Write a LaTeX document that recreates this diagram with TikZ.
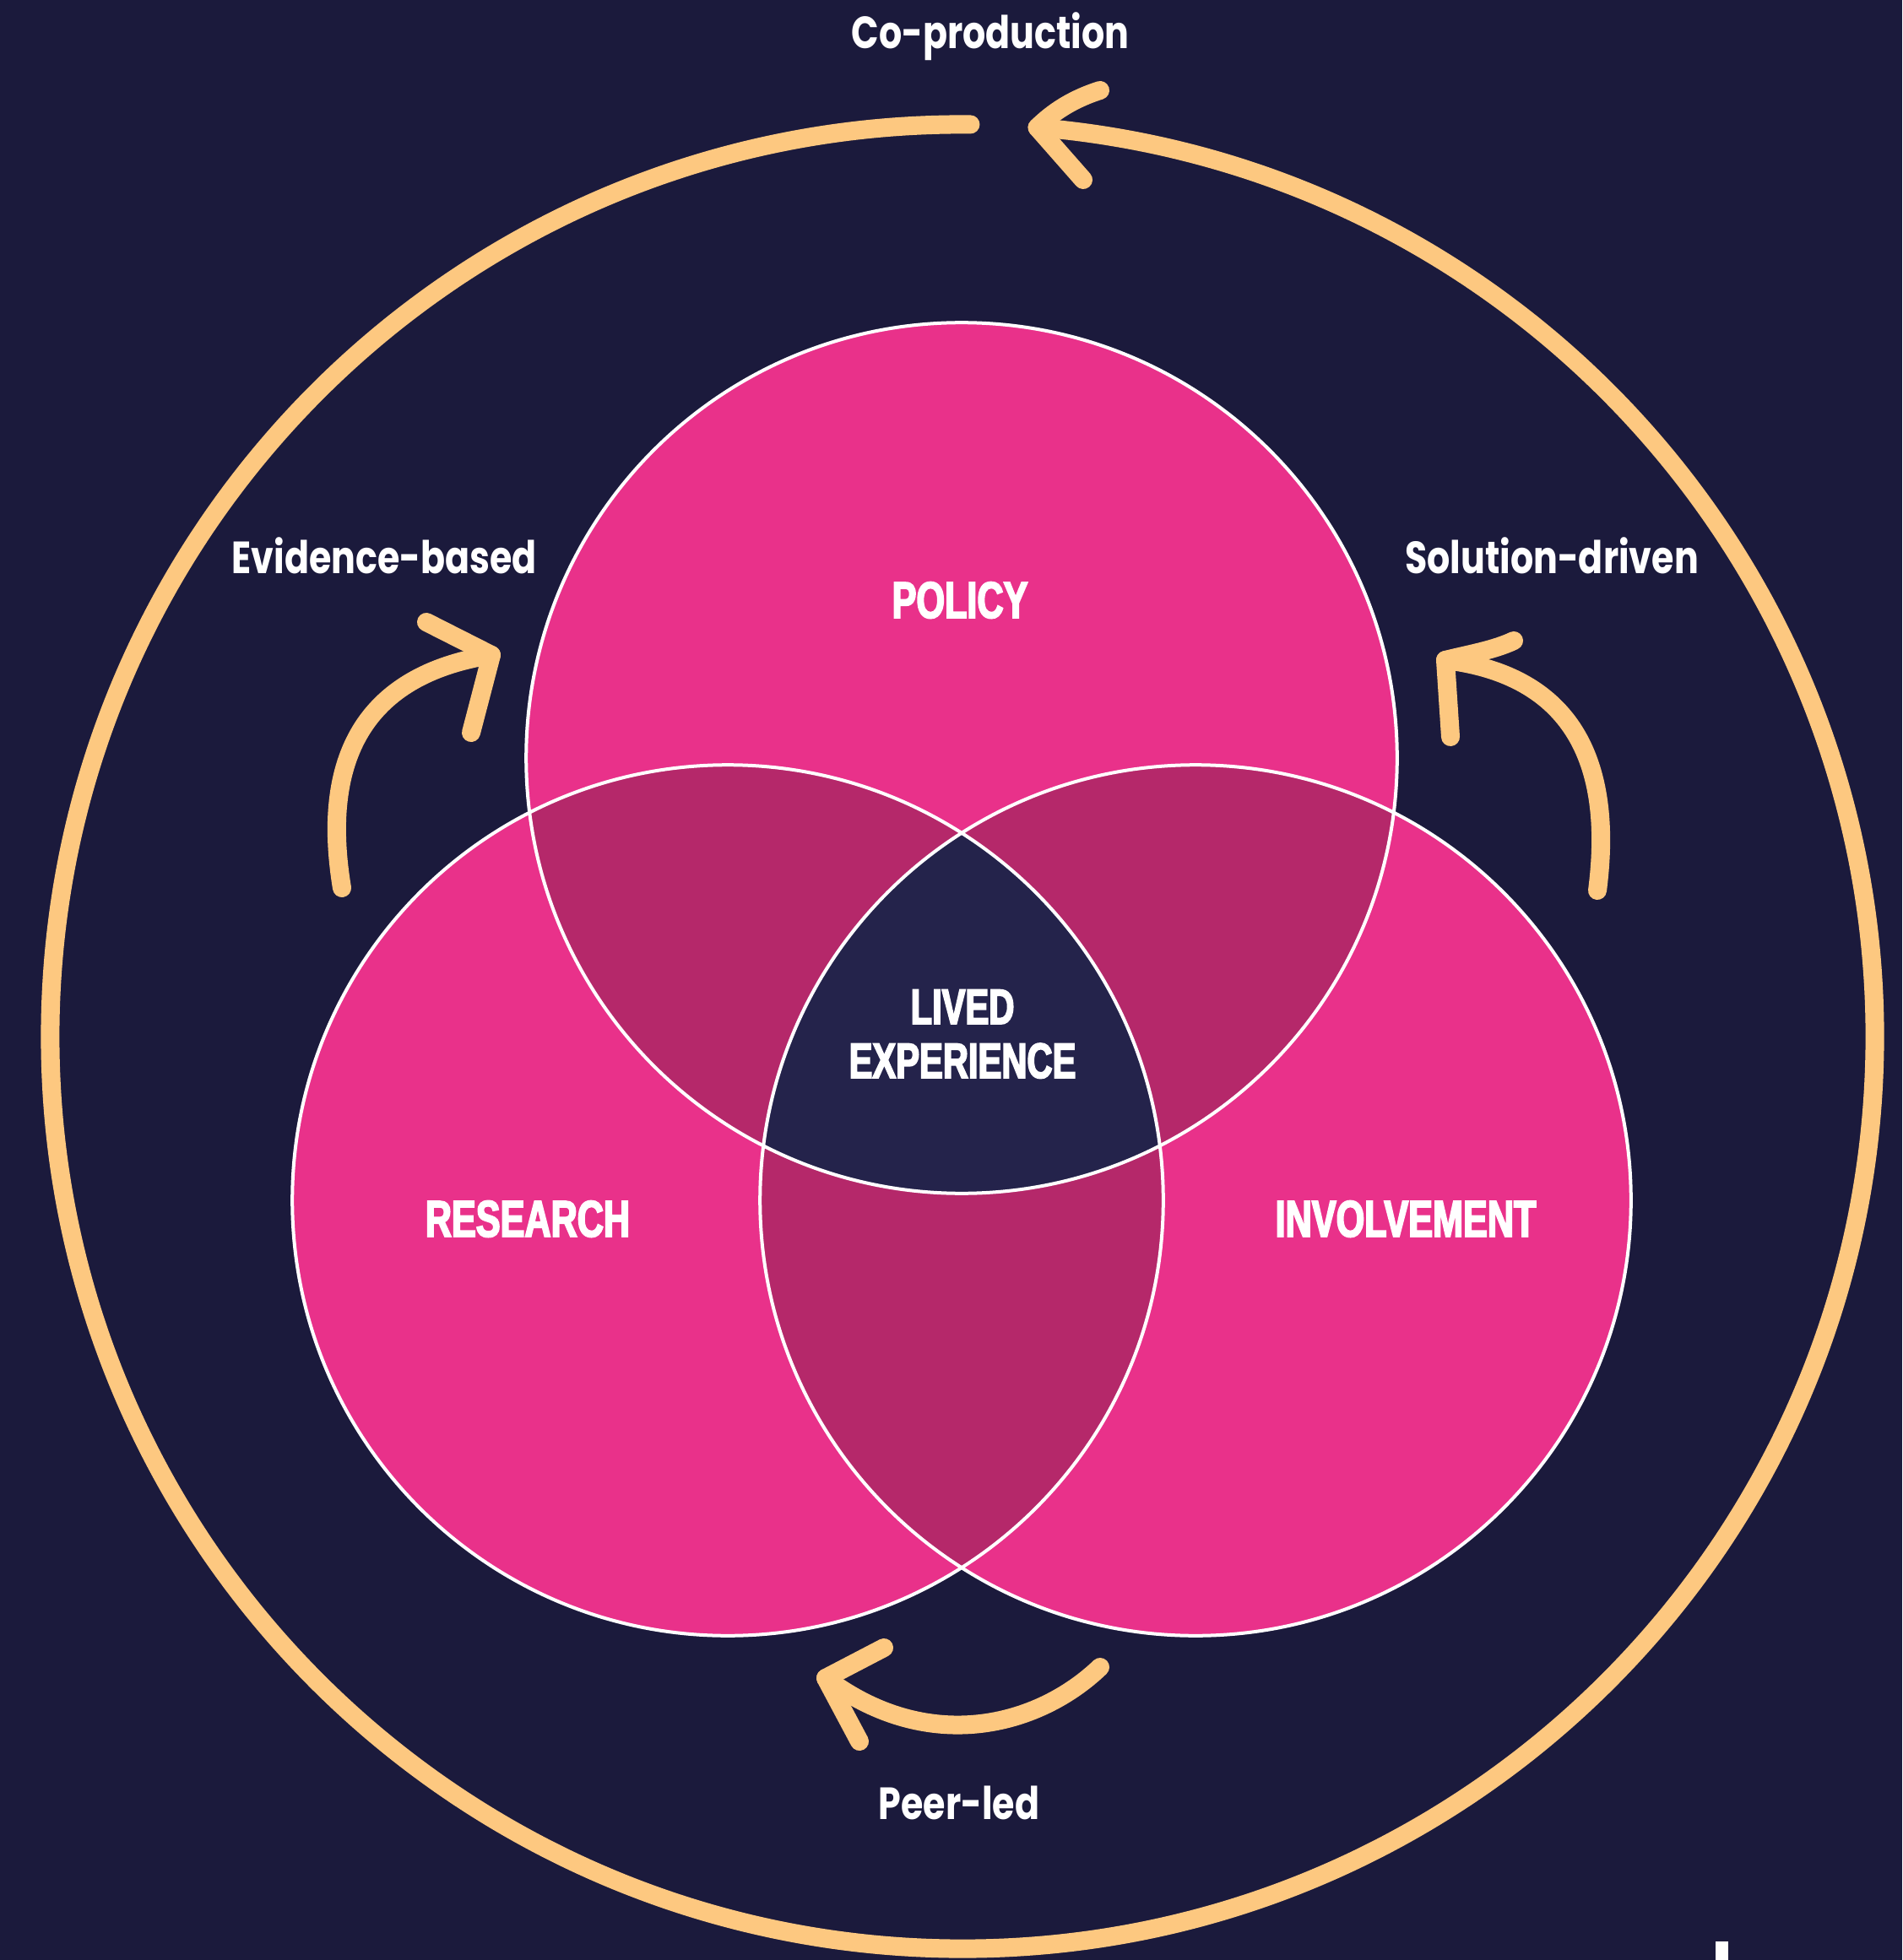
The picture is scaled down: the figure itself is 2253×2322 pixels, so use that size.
\documentclass[tikz,border=0pt]{standalone}
\usepackage{fontspec}
\newfontfamily\capsfont[UprightFont={* Bold},FakeStretch=0.71,FakeBold=3]{Liberation Sans}
\newfontfamily\labelfont[UprightFont={* Bold},FakeStretch=0.8]{Poppins}
\definecolor{bg}{HTML}{1B1A3C}
\definecolor{pinkc}{HTML}{E9318A}
\definecolor{overlapc}{HTML}{B5286A}
\definecolor{corec}{HTML}{24234B}
\definecolor{ringc}{HTML}{FDC880}
\tikzset{
  orangeline/.style={draw=ringc, line width=0.22cm, line cap=round, line join=round},
  capslabel/.style={text=white, inner sep=0pt, anchor=base, font=\capsfont\fontsize{17.3pt}{18pt}\selectfont},
  corelabel/.style={text=white, inner sep=0pt, anchor=base, font=\capsfont\fontsize{16.7pt}{18pt}\selectfont},
  smalllabel/.style={text=white, inner sep=0pt, anchor=base, font=\labelfont\fontsize{15.2pt}{17pt}\selectfont},
  outline/.style={draw=white, line width=0.04cm}
}
\begin{document}
\begin{tikzpicture}[x=0.01cm,y=-0.01cm]
\fill[bg] (0,0) rectangle (2253,2322);
\useasboundingbox (0,0) rectangle (2253,2322);

% circle centres
\coordinate (cP) at (1139,898);
\coordinate (cR) at (862,1422);
\coordinate (cI) at (1416,1422);
\coordinate (cO) at (1140,1228);

% base fills
\fill[pinkc] (cP) circle[radius=5.155cm];
\fill[pinkc] (cR) circle[radius=5.155cm];
\fill[pinkc] (cI) circle[radius=5.155cm];
% pairwise overlaps
\begin{scope}
  \clip (cP) circle[radius=5.155cm];
  \fill[overlapc] (cR) circle[radius=5.155cm];
  \fill[overlapc] (cI) circle[radius=5.155cm];
\end{scope}
\begin{scope}
  \clip (cR) circle[radius=5.155cm];
  \fill[overlapc] (cI) circle[radius=5.155cm];
\end{scope}
% triple overlap
\begin{scope}
  \clip (cP) circle[radius=5.155cm];
  \clip (cR) circle[radius=5.155cm];
  \fill[corec] (cI) circle[radius=5.155cm];
\end{scope}
% outlines
\draw[outline] (cP) circle[radius=5.155cm];
\draw[outline] (cR) circle[radius=5.155cm];
\draw[outline] (cI) circle[radius=5.155cm];

% outer ring with arrow
\draw[orangeline] (cO) ++(89.5:10.8cm) arc[start angle=89.5, end angle=445.3, radius=10.8cm] coordinate (ringtip);
\coordinate (ringup) at (1303,107);
\coordinate (ringlow) at (1283,213);
\draw[orangeline] (ringup) .. controls (1262,120) and (1240,140) .. (ringtip) -- (ringlow);

% Evidence-based arrow
\coordinate (ebstart) at (405,1052);
\coordinate (ebtip) at (582,776);
\coordinate (ebup) at (505,737);
\coordinate (eblow) at (558,868);
\draw[orangeline] (ebstart) .. controls (380,900) and (430,800) .. (ebtip);
\draw[orangeline] (ebup) -- (ebtip) -- (eblow);

% Solution-driven arrow
\coordinate (sdstart) at (1892,1055);
\coordinate (sdtip) at (1712,782);
\coordinate (sdup) at (1793,759);
\coordinate (sdlow) at (1718,873);
\draw[orangeline] (sdstart) .. controls (1912,900) and (1860,800) .. (sdtip);
\draw[orangeline] (sdup) .. controls (1770,770) and (1740,775) .. (sdtip) -- (sdlow);

% Peer-led arrow
\coordinate (plstart) at (1303,1975);
\coordinate (pltip) at (978,1988);
\coordinate (plup) at (1047,1952);
\coordinate (pllow) at (1018,2063);
\draw[orangeline] (plstart) .. controls (1230,2045) and (1100,2080) .. (pltip);
\draw[orangeline] (plup) -- (pltip) -- (pllow);

% labels
\node[smalllabel] (coprod) at (1173,58) {Co-production};
\node[smalllabel] (evid) at (455,680) {Evidence-based};
\node[smalllabel] (solut) at (1838,680) {Solution-driven};
\node[smalllabel] (peer) at (1136,2155) {Peer-led};
\node[capslabel] (policy) at (1137,732) {POLICY};
\node[capslabel] (research) at (625,1465) {RESEARCH};
\node[capslabel] (involve) at (1665,1465) {INVOLVEMENT};
\node[corelabel] (lived) at (1140,1213) {LIVED};
\node[corelabel] (exper) at (1140,1277) {EXPERIENCE};

% small white mark at bottom right
\fill[white] (2032,2300) rectangle (2047,2322);
\end{tikzpicture}
\end{document}
